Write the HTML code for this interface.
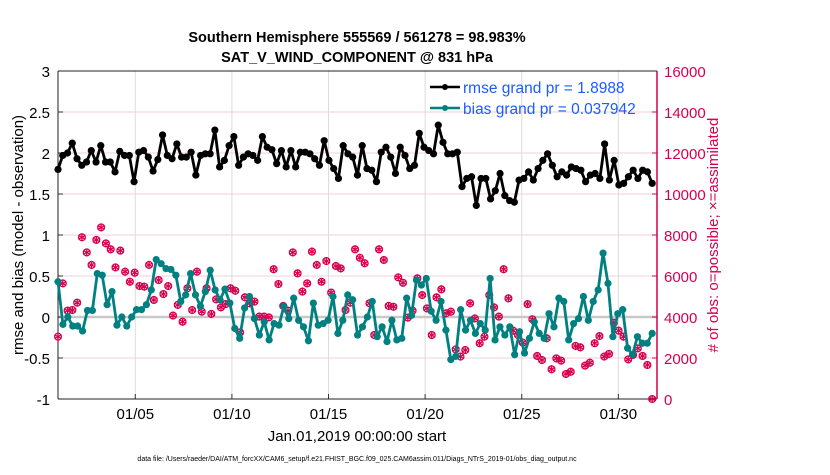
<!DOCTYPE html>
<html><head><meta charset="utf-8"><style>
body{margin:0;background:#fff;width:830px;height:470px;overflow:hidden;font-family:"Liberation Sans",sans-serif}
svg text{font-family:"Liberation Sans",sans-serif}
</style></head><body>
<svg id="chart" width="830" height="470" xmlns="http://www.w3.org/2000/svg">
<g id="grid"></g>
<g id="axes"></g>
<g id="marks"></g>
<text x="357" y="42" text-anchor="middle" font-size="14.5" font-weight="bold">Southern Hemisphere 555569 / 561278 = 98.983%</text>
<text x="357" y="62" text-anchor="middle" font-size="14.5" font-weight="bold">SAT_V_WIND_COMPONENT @ 831 hPa</text>
<text transform="translate(23,235) rotate(-90)" text-anchor="middle" font-size="15">rmse and bias (model - observation)</text>
<text transform="translate(718,235) rotate(-90)" text-anchor="middle" font-size="15" fill="#d6004f"># of obs: o=possible; ×=assimilated</text>
<text x="357" y="441" text-anchor="middle" font-size="15">Jan.01,2019 00:00:00 start</text>
<text x="357" y="461" text-anchor="middle" font-size="7">data file: /Users/raeder/DAI/ATM_forcXX/CAM6_setup/f.e21.FHIST_BGC.f09_025.CAM6assim.011/Diags_NTrS_2019-01/obs_diag_output.nc</text>
<g>
<line x1="430" y1="87" x2="460" y2="87" stroke="#000" stroke-width="2.5"/><circle cx="445" cy="87" r="3" fill="#000"/>
<text x="463" y="93" font-size="15.5" fill="#1a5cff">rmse grand pr = 1.8988</text>
<line x1="430" y1="108" x2="460" y2="108" stroke="#008080" stroke-width="2.5"/><circle cx="445" cy="108" r="3" fill="#008080"/>
<text x="463" y="114" font-size="15.5" fill="#1a5cff">bias grand pr = 0.037942</text>
</g>
</svg>
<script>
const rmse=[1.80,1.97,2.00,2.12,1.93,1.85,1.89,2.03,1.89,2.09,1.89,1.89,1.77,2.02,1.97,1.97,1.65,2.01,2.03,1.95,1.78,1.92,2.22,1.97,1.93,2.11,1.95,1.95,2.01,1.73,1.97,1.99,1.99,2.28,1.83,1.91,2.09,2.20,1.85,1.95,1.99,1.97,1.91,2.20,
2.07,2.04,1.87,2.03,1.83,2.03,1.83,2.01,2.01,1.99,1.93,1.85,2.15,1.91,1.81,1.69,2.09,1.99,1.95,1.73,2.09,1.81,1.79,1.65,2.01,2.07,1.95,1.75,2.07,1.97,1.81,1.85,2.24,2.07,2.03,1.99,2.34,2.13,1.99,1.99,2.01,1.59,
1.69,1.71,1.36,1.69,1.69,1.44,1.54,1.75,1.48,1.42,1.40,1.67,1.69,1.77,1.67,1.81,1.91,1.99,1.85,1.71,1.77,1.73,1.83,1.81,1.79,1.65,1.73,1.75,1.69,2.11,1.67,1.91,1.61,1.63,1.71,1.79,1.69,1.79,1.77,1.63];
const bias=[0.43,-0.09,0,-0.11,-0.11,-0.17,0.08,0.08,0.53,0.51,0.15,0.31,-0.10,0,-0.11,0,0.09,0.09,0.15,0.33,0.70,0.65,0.59,0.58,0.51,0.19,0.27,0.53,0.27,0.13,0.31,0.57,0.33,0.21,0.34,0.17,-0.14,-0.26,0.11,0.25,-0.02,-0.22,
-0.06,-0.28,-0.08,-0.10,0.13,-0.02,0.23,-0.04,-0.12,-0.29,0.17,-0.10,-0.08,-0.04,0.25,-0.20,-0.04,0.27,0.21,-0.22,-0.12,0,0.19,-0.24,-0.12,-0.30,-0.04,-0.28,-0.26,0.23,0.02,0.45,0.39,0.47,0.07,-0.04,0.19,-0.16,-0.52,-0.48,
0.09,-0.16,-0.04,-0.20,-0.08,-0.16,0.47,-0.28,-0.12,-0.22,-0.12,-0.46,-0.18,-0.44,-0.26,-0.06,-0.20,-0.26,0.04,-0.12,0.23,0.19,-0.28,-0.08,-0.02,0.25,-0.04,0.19,0.33,0.78,0.41,-0.24,0.04,0.09,-0.38,-0.46,-0.24,-0.32,-0.32,-0.20];
const nobs=[3040,5640,4310,4340,4700,7890,7150,6540,7760,8370,7590,7300,6420,7240,6210,5720,6160,5510,5480,6540,4830,5800,5120,5510,4070,4590,3770,5400,4340,6210,4260,5400,4150,4860,4470,4630,5400,5280,3250,4960,4670,4750,4020,
4020,3980,6330,5610,4540,4310,7150,6130,5240,5640,7190,6540,5720,6730,5190,6490,6370,4340,4700,7300,6890,6620,4670,3120,7300,6780,4540,4500,5930,5670,3970,4310,5890,5070,4420,3120,4960,5350,4180,4260,2420,2070,2390,
4670,3930,2720,3040,5070,4470,4020,6330,4910,3330,3120,2750,4630,3890,2100,1900,2960,1450,1980,1870,1220,1330,2590,2520,1630,1770,2720,3070,2070,2200,3720,3330,3040,1930,2150,2470,2100,1660,0];
const leftTicks=[-1,-0.5,0,0.5,1,1.5,2,2.5,3];
const rightTicks=[0,2000,4000,6000,8000,10000,12000,14000,16000];
const dayTicks=[4,9,14,19,24,29];
const dayLabels=["01/05","01/10","01/15","01/20","01/25","01/30"];
const X0=58,X1=657,Y0=399,Y1=71;
const xs=d=>X0+d/31*(X1-X0);
const ys=v=>Y0-(v+1)/4*(Y0-Y1);
const yr=v=>Y0-v/16000*(Y0-Y1);
const NS="http://www.w3.org/2000/svg";
function mk(p,t,a){const e=document.createElementNS(NS,t);for(const k in a)e.setAttribute(k,a[k]);p.appendChild(e);return e;}
const grid=document.getElementById('grid'),axes=document.getElementById('axes'),marks=document.getElementById('marks');
dayTicks.forEach((d,i)=>{const l=mk(grid,'line',{x1:xs(d),x2:xs(d),y1:Y1,y2:Y0,stroke:'#dcdcdc','stroke-width':1});


const t=mk(axes,'text',{x:xs(d),y:Y0+20,'text-anchor':'middle','font-size':15});t.textContent=dayLabels[i];


mk(axes,'line',{x1:xs(d),x2:xs(d),y1:Y0,y2:Y0-5,stroke:'#333'});});
rightTicks.forEach(v=>{const l=mk(grid,'line',{x1:X0,x2:X1,y1:yr(v),y2:yr(v),stroke:'#f3cfdc','stroke-width':1});


const t=mk(axes,'text',{x:X1+7,y:yr(v)+6,'font-size':15,fill:'#d6004f'});t.textContent=v;


mk(axes,'line',{x1:X1,x2:X1-5,y1:yr(v),y2:yr(v),stroke:'#d6004f'});});
leftTicks.forEach(v=>{const t=mk(axes,'text',{x:X0-8,y:ys(v)+6,'font-size':15,'text-anchor':'end'});t.textContent=v;


mk(axes,'line',{x1:X0,x2:X0+5,y1:ys(v),y2:ys(v),stroke:'#333'});});
mk(grid,'line',{x1:X0,x2:X1,y1:ys(0),y2:ys(0),stroke:'#c8c8c8','stroke-width':2.5});
mk(axes,'line',{x1:X0,x2:X0,y1:Y1,y2:Y0,stroke:'#222'});
mk(axes,'line',{x1:X0,x2:X1,y1:Y0,y2:Y0,stroke:'#222'});
mk(axes,'line',{x1:X1,x2:X1,y1:Y1,y2:Y0,stroke:'#d6004f','stroke-width':1.5});
mk(axes,'line',{x1:X0,x2:X1,y1:Y1,y2:Y1,stroke:'#222'});
const tday=(i,n)=>i*30.75/(n-1);
nobs.forEach((v,i)=>{const x=xs(tday(i,nobs.length)),y=yr(v);
const g=mk(marks,'g',{stroke:'#d6004f','stroke-width':1.3});


mk(g,'circle',{cx:x,cy:y,r:3.4,fill:'none'});
mk(g,'line',{x1:x,x2:x,y1:y-4,y2:y+4});
mk(g,'line',{x1:x-3.5,x2:x+3.5,y1:y-2,y2:y+2});
mk(g,'line',{x1:x-3.5,x2:x+3.5,y1:y+2,y2:y-2});});
function series(arr,col,name){const pts=arr.map((v,i)=>xs(tday(i,arr.length))+','+ys(v)).join(' ');
const pl=mk(marks,'polyline',{points:pts,fill:'none',stroke:col,'stroke-width':2.8,'stroke-linejoin':'round'});


arr.forEach((v,i)=>{const c=mk(marks,'circle',{cx:xs(tday(i,arr.length)),cy:ys(v),r:3.6,fill:col});

});}
series(rmse,'#000','rmse');
series(bias,'#008080','bias');
</script>
</body></html>
